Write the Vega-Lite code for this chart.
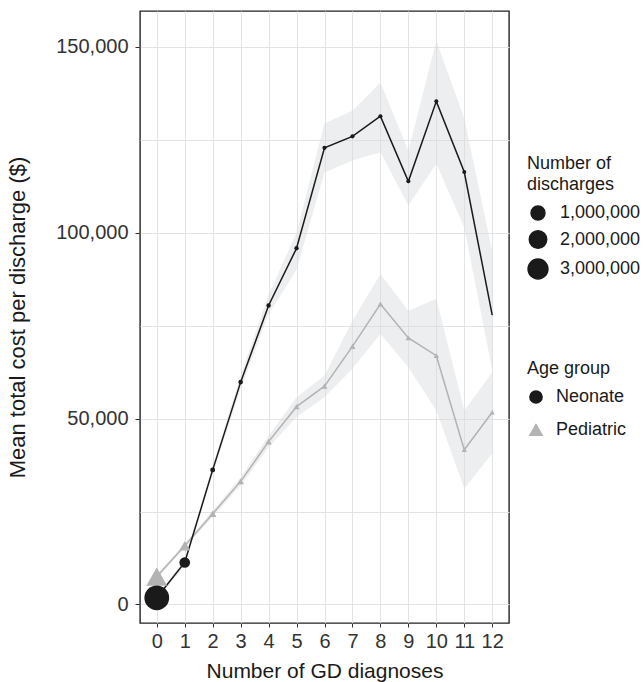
{
  "$schema": "https://vega.github.io/schema/vega-lite/v6.json",
  "width": 369,
  "height": 612,
  "autosize": {"type": "none"},
  "padding": {"left": 140, "top": 11, "right": 135, "bottom": 59},
  "background": "white",
  "config": {
    "font": "Liberation Sans",
    "view": {"stroke": "#222222", "strokeWidth": 1.4},
    "axis": {"labelFont": "Liberation Sans", "titleFont": "Liberation Sans", "titleFontWeight": "normal"},
    "legend": {"labelFont": "Liberation Sans", "titleFont": "Liberation Sans", "titleFontWeight": "normal"}
  },
  "data": {
    "values": [
      {"n": 0, "group": "Pediatric", "cost": 7500, "lo": 7000, "hi": 8000, "discharges": 3570000},
      {"n": 1, "group": "Pediatric", "cost": 15800, "lo": 15200, "hi": 16400, "discharges": 480000},
      {"n": 2, "group": "Pediatric", "cost": 24400, "lo": 23600, "hi": 25200, "discharges": 150000},
      {"n": 3, "group": "Pediatric", "cost": 33100, "lo": 32000, "hi": 34200, "discharges": 110000},
      {"n": 4, "group": "Pediatric", "cost": 43800, "lo": 42200, "hi": 45400, "discharges": 90000},
      {"n": 5, "group": "Pediatric", "cost": 53200, "lo": 50400, "hi": 55700, "discharges": 80000},
      {"n": 6, "group": "Pediatric", "cost": 58700, "lo": 55700, "hi": 61600, "discharges": 75000},
      {"n": 7, "group": "Pediatric", "cost": 69400, "lo": 63400, "hi": 76300, "discharges": 70000},
      {"n": 8, "group": "Pediatric", "cost": 80800, "lo": 72800, "hi": 88900, "discharges": 65000},
      {"n": 9, "group": "Pediatric", "cost": 71700, "lo": 63800, "hi": 79000, "discharges": 60000},
      {"n": 10, "group": "Pediatric", "cost": 66900, "lo": 52200, "hi": 82200, "discharges": 55000},
      {"n": 11, "group": "Pediatric", "cost": 41600, "lo": 31200, "hi": 52200, "discharges": 50000},
      {"n": 12, "group": "Pediatric", "cost": 51700, "lo": 40600, "hi": 62400, "discharges": 45000},
      {"n": 0, "group": "Neonate", "cost": 1800, "lo": 1300, "hi": 2300, "discharges": 6000000},
      {"n": 1, "group": "Neonate", "cost": 11300, "lo": 10500, "hi": 12100, "discharges": 430000},
      {"n": 2, "group": "Neonate", "cost": 36200, "lo": 35000, "hi": 37400, "discharges": 40000},
      {"n": 3, "group": "Neonate", "cost": 59800, "lo": 58000, "hi": 61600, "discharges": 32000},
      {"n": 4, "group": "Neonate", "cost": 80400, "lo": 78000, "hi": 83300, "discharges": 28000},
      {"n": 5, "group": "Neonate", "cost": 95800, "lo": 90000, "hi": 100000, "discharges": 26000},
      {"n": 6, "group": "Neonate", "cost": 122800, "lo": 116200, "hi": 129400, "discharges": 25000},
      {"n": 7, "group": "Neonate", "cost": 125900, "lo": 119400, "hi": 132800, "discharges": 24000},
      {"n": 8, "group": "Neonate", "cost": 131300, "lo": 121600, "hi": 140400, "discharges": 23000},
      {"n": 9, "group": "Neonate", "cost": 113800, "lo": 107300, "hi": 122000, "discharges": 22000},
      {"n": 10, "group": "Neonate", "cost": 135300, "lo": 118500, "hi": 151600, "discharges": 21000},
      {"n": 11, "group": "Neonate", "cost": 116300, "lo": 101300, "hi": 130700, "discharges": 20000},
      {"n": 12, "group": "Neonate", "cost": 77800, "lo": 63000, "hi": 95000, "discharges": 0}
    ]
  },
  "encoding": {
    "x": {
      "field": "n", "type": "quantitative",
      "scale": {"domain": [-0.6, 12.6], "nice": false, "zero": false},
      "axis": {
        "values": [0,1,2,3,4,5,6,7,8,9,10,11,12],
        "title": "Number of GD diagnoses",
        "grid": true, "gridColor": "#e3e3e3", "gridWidth": 1,
        "domain": false, "ticks": true, "tickColor": "#333333", "tickSize": 4,
        "labelFontSize": 20, "labelColor": "#333333", "labelPadding": 4, "labelFlush": false,
        "titleFontSize": 21, "titleColor": "#1a1a1a", "titlePadding": 9
      }
    }
  },
  "layer": [
    {
      "mark": {"type": "area", "color": "#d8d9dc", "opacity": 0.45},
      "encoding": {
        "y": {
          "field": "lo", "type": "quantitative",
          "scale": {"domain": [-4975, 159600], "nice": false, "zero": false},
          "axis": {
            "values": [0, 25000, 50000, 75000, 100000, 125000, 150000],
            "labelExpr": "datum.value % 50000 === 0 ? format(datum.value, ',') : ''",
            "title": "Mean total cost per discharge ($)",
            "grid": true, "gridColor": "#e3e3e3", "gridWidth": 1,
            "domain": false, "tickColor": "#333333", "tickSize": 5,
            "tickOpacity": {"condition": {"test": "datum.value % 50000 !== 0", "value": 0}, "value": 1},
            "labelFontSize": 20, "labelColor": "#333333", "labelPadding": 7,
            "titleFontSize": 22, "titleColor": "#1a1a1a", "titlePadding": 26
          }
        },
        "y2": {"field": "hi"},
        "detail": {"field": "group"}
      }
    },
    {
      "mark": {"type": "line", "strokeWidth": 1.5},
      "encoding": {
        "y": {"field": "cost", "type": "quantitative"},
        "color": {
          "field": "group", "type": "nominal",
          "scale": {"domain": ["Neonate", "Pediatric"], "range": ["#1a1a1a", "#b3b3b3"]},
          "legend": {
            "title": "Age group",
            "orient": "none", "legendX": 387, "legendY": 349,
            "padding": 0,
            "titleFontSize": 18, "titleColor": "#1a1a1a", "titlePadding": 10,
            "labelFontSize": 18, "labelColor": "#1a1a1a", "labelOffset": 11,
            "rowPadding": 14, "symbolSize": 150
          }
        }
      }
    },
    {
      "mark": {"type": "point", "filled": true, "opacity": 1},
      "encoding": {
        "y": {"field": "cost", "type": "quantitative"},
        "color": {
          "field": "group", "type": "nominal",
          "legend": {
            "title": "Age group",
            "orient": "none", "legendX": 387, "legendY": 349,
            "padding": 0,
            "titleFontSize": 18, "titleColor": "#1a1a1a", "titlePadding": 10,
            "labelFontSize": 18, "labelColor": "#1a1a1a", "labelOffset": 11,
            "rowPadding": 14, "symbolSize": 150
          }
        },
        "size": {
          "field": "discharges", "type": "quantitative",
          "scale": {"type": "pow", "exponent": 0.644, "domain": [0, 6000000], "range": [0, 615], "zero": true},
          "legend": {
            "title": ["Number of", "discharges"],
            "values": [1000000, 2000000, 3000000],
            "labelExpr": "format(datum.value, ',')",
            "orient": "none", "legendX": 387, "legendY": 144,
            "padding": 0,
            "titleFontSize": 18, "titleColor": "#1a1a1a", "titleLineHeight": 21, "titlePadding": 10,
            "labelFontSize": 18, "labelColor": "#1a1a1a", "labelOffset": 11,
            "rowPadding": 4,
            "symbolType": "circle", "symbolFillColor": "#1a1a1a", "symbolStrokeColor": "#1a1a1a", "symbolOpacity": 1
          }
        },
        "shape": {
          "field": "group", "type": "nominal",
          "scale": {"domain": ["Neonate", "Pediatric"], "range": ["circle", "triangle-up"]},
          "legend": {
            "title": "Age group",
            "orient": "none", "legendX": 387, "legendY": 349,
            "padding": 0,
            "titleFontSize": 18, "titleColor": "#1a1a1a", "titlePadding": 10,
            "labelFontSize": 18, "labelColor": "#1a1a1a", "labelOffset": 11,
            "rowPadding": 14, "symbolSize": 150
          }
        }
      }
    }
  ]
}
